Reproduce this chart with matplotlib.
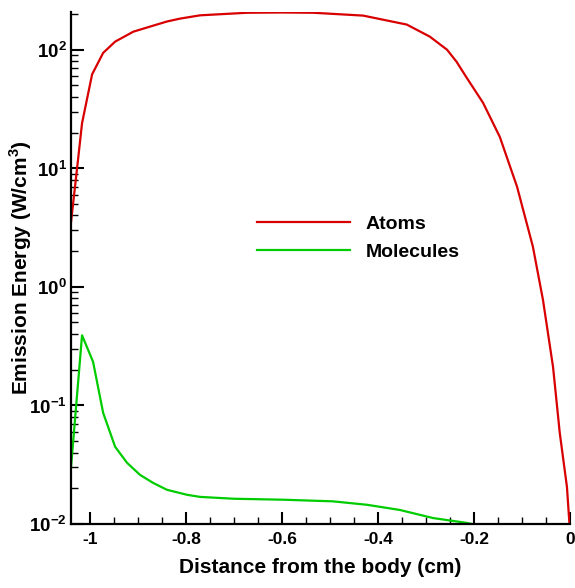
import matplotlib
matplotlib.use('Agg')
import matplotlib.pyplot as plt
from matplotlib.ticker import FixedLocator, MultipleLocator, LogLocator, NullFormatter

plt.rcParams['font.family'] = 'Liberation Sans'
plt.rcParams['font.weight'] = 'bold'
plt.rcParams['mathtext.fontset'] = 'custom'
plt.rcParams['mathtext.rm'] = 'Liberation Sans:bold'
plt.rcParams['mathtext.bf'] = 'Liberation Sans:bold'

# atoms emission
x_atoms = [-1.04, -1.027, -1.017, -0.996, -0.973, -0.948, -0.91, -0.84, -0.8125,
           -0.771, -0.673, -0.6, -0.535, -0.431, -0.34, -0.292, -0.256, -0.236,
           -0.215, -0.181, -0.146, -0.110, -0.077, -0.056, -0.035, -0.021, -0.006, 0.0]
y_atoms = [3.5, 10.3, 24, 62, 94, 117, 142, 173, 183,
           195, 205, 206, 205, 194, 163, 129, 100, 79,
           58, 35.7, 18.4, 6.98, 2.18, 0.776, 0.211, 0.0586, 0.0205, 0.009]

# molecules emission
x_mol = [-1.04, -1.017, -0.994, -0.973, -0.948, -0.923, -0.896, -0.869, -0.84,
         -0.798, -0.771, -0.7, -0.598, -0.494, -0.423, -0.354, -0.285, -0.215,
         -0.2, -0.15]
y_mol = [0.030, 0.39, 0.233, 0.0865, 0.0447, 0.0327, 0.0259, 0.0222, 0.0194,
         0.0176, 0.0169, 0.0163, 0.0160, 0.0155, 0.0145, 0.0131, 0.0112, 0.0102,
         0.0099, 0.008]

y_major = [1e-2, 1e-1, 1e0, 1e1, 1e2]
y_major_labels = [r'$10^{-2}$', r'$10^{-1}$', r'$10^{0}$', r'$10^{1}$', r'$10^{2}$']
x_major = [-1, -0.8, -0.6, -0.4, -0.2, 0]
x_major_labels = ['-1', '-0.8', '-0.6', '-0.4', '-0.2', '0']

fig = plt.figure(figsize=(5.75, 5.88), dpi=100)
ax = fig.add_axes([0.1235, 0.109, 0.8675, 0.871])

ax.plot(x_atoms, y_atoms, color='#d80000', lw=1.6, label='Atoms')
ax.plot(x_mol, y_mol, color='#00cc00', lw=1.6, label='Molecules')

ax.set_yscale('log')
ax.set_xlim(-1.04, 0)
ax.set_ylim(1e-2, 209)

ax.yaxis.set_major_locator(FixedLocator(y_major))
ax.set_yticklabels(y_major_labels)
ax.yaxis.set_minor_locator(LogLocator(base=10, subs=range(2, 10)))
ax.yaxis.set_minor_formatter(NullFormatter())
ax.xaxis.set_major_locator(FixedLocator(x_major))
ax.set_xticklabels(x_major_labels)
ax.xaxis.set_minor_locator(MultipleLocator(0.05))

ax.spines['top'].set_visible(False)
ax.spines['right'].set_visible(False)
for s in ['left', 'bottom']:
    ax.spines[s].set_linewidth(1.6)

ax.tick_params(which='major', direction='in', length=9, width=1.5, labelsize=12.5)
ax.tick_params(axis='y', which='major', labelsize=13.5, pad=3)
ax.tick_params(which='minor', direction='in', length=5, width=1.0)
ax.tick_params(axis='x', which='major', pad=6)

ax.set_xlabel('Distance from the body (cm)', fontsize=15, fontweight='bold', labelpad=8)
ax.set_ylabel(r'Emission Energy (W/cm$^3$)', fontsize=15, fontweight='bold',
              va='center')
ax.yaxis.set_label_coords(-0.1, 0.5)

ax.legend(loc='center left', bbox_to_anchor=(0.338, 0.558), frameon=False,
          fontsize=14, handlelength=4.8, handletextpad=0.77, labelspacing=0.5)

fig.savefig('out.png', dpi=100)
